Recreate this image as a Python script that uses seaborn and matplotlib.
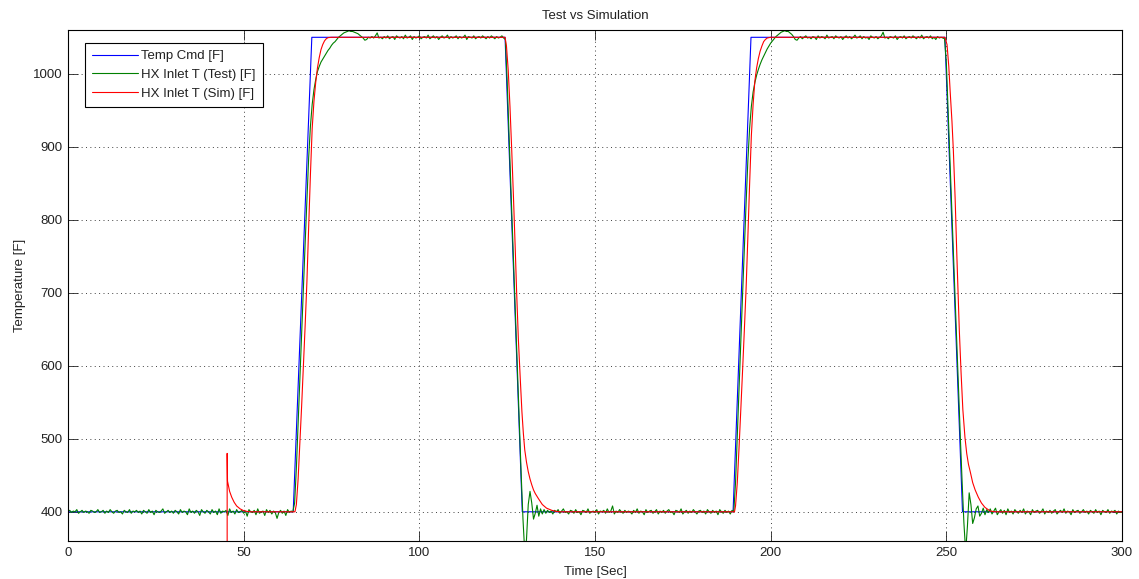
import numpy as np
import matplotlib
matplotlib.use("Agg")
import matplotlib.pyplot as plt
import seaborn as sns

# ---------------- data ----------------
chart_title = "Test vs Simulation"
x_label = "Time [Sec]"
y_label = "Temperature [F]"
series_names = ["Temp Cmd [F]", "HX Inlet T (Test) [F]", "HX Inlet T (Sim) [F]"]

x_ticks = [0, 50, 100, 150, 200, 250, 300]
y_ticks = [400, 500, 600, 700, 800, 900, 1000]
x_limits = [0, 300]
y_limits = [360, 1060]

# Temperature command (piecewise ramps)
cmd_time = [0, 64.1, 69.4, 124.4, 129.3, 189.3, 194.4, 249.6, 254.6, 300]
cmd_temp = [400, 400, 1050, 1050, 400, 400, 1050, 1050, 400, 400]

# Test measurement, sampled every 0.5 s from 0 to 300 s
test_temp = [
    401, 402, 399, 401, 400, 403, 398, 400, 402, 399, 401, 400, 398, 402, 401, 399, 400, 403, 399, 400,
    402, 398, 401, 399, 403, 400, 398, 401, 402, 399, 400, 397, 402, 400, 399, 403, 398, 401, 400, 402,
    399, 401, 397, 402, 400, 398, 403, 399, 401, 396, 402, 400, 399, 401, 404, 398, 400, 402, 399, 401,
    398, 402, 400, 397, 403, 399, 401, 400, 396, 404, 399, 401, 398, 402, 400, 395, 403, 400, 398, 402,
    400, 397, 403, 399, 401, 396, 404, 398, 401, 400, 402, 395, 404, 399, 401, 397, 403, 399, 400, 402,
    398, 401, 394, 403, 400, 399, 402, 396, 404, 398, 400, 401, 395, 403, 399, 402, 397, 401, 399, 391,
    399, 402, 398, 401, 395, 403, 399, 401, 400, 412, 460, 520, 582, 645, 706, 768, 828, 885, 928, 958,
    978, 992, 1003, 1010, 1016, 1020, 1024, 1028, 1032, 1035, 1039, 1042, 1044, 1047, 1050, 1052, 1054, 1056, 1057, 1058,
    1059, 1058, 1058, 1057, 1056, 1055, 1053, 1051, 1049, 1046, 1047, 1050, 1049, 1051, 1049, 1052, 1056, 1049, 1050, 1048,
    1051, 1049, 1052, 1048, 1050, 1051, 1047, 1052, 1050, 1049, 1051, 1048, 1053, 1049, 1050, 1052, 1047, 1051, 1049, 1050,
    1052, 1048, 1050, 1051, 1049, 1053, 1048, 1050, 1052, 1049, 1051, 1047, 1050, 1052, 1049, 1050, 1053, 1048, 1051, 1049,
    1050, 1052, 1048, 1051, 1049, 1050, 1053, 1047, 1051, 1050, 1049, 1052, 1048, 1050, 1051, 1049, 1052, 1050, 1048, 1051,
    1049, 1052, 1050, 1048, 1051, 1049, 1050, 1052, 1049, 1047, 990, 920, 852, 785, 716, 650, 582, 515, 450, 390,
    345, 362, 410, 428, 412, 390, 398, 409, 394, 404, 397, 403, 398, 402, 399, 401, 397, 402, 400, 403,
    398, 401, 404, 399, 400, 397, 402, 401, 398, 403, 399, 400, 396, 402, 401, 399, 404, 398, 400, 401,
    399, 403, 397, 401, 400, 402, 398, 404, 399, 401, 408, 397, 401, 399, 403, 400, 398, 402, 399, 401,
    400, 397, 402, 399, 404, 398, 401, 400, 396, 403, 399, 401, 402, 398, 400, 403, 397, 401, 399, 402,
    398, 401, 403, 399, 400, 396, 402, 401, 399, 404, 397, 400, 402, 398, 401, 399, 403, 400, 397, 401,
    402, 399, 401, 397, 403, 400, 398, 402, 399, 401, 396, 403, 400, 398, 402, 399, 401, 397, 402, 400,
    440, 505, 570, 633, 697, 760, 822, 880, 925, 955, 975, 988, 998, 1006, 1013, 1019, 1024, 1029, 1034, 1038,
    1042, 1045, 1048, 1051, 1053, 1055, 1057, 1058, 1059, 1058, 1058, 1056, 1054, 1051, 1047, 1046, 1049, 1051, 1048, 1050,
    1052, 1049, 1050, 1048, 1051, 1050, 1047, 1052, 1049, 1051, 1050, 1048, 1053, 1049, 1050, 1051, 1048, 1052, 1050, 1049,
    1051, 1047, 1050, 1052, 1049, 1051, 1048, 1050, 1053, 1049, 1050, 1052, 1048, 1051, 1049, 1050, 1047, 1052, 1050, 1049,
    1051, 1048, 1050, 1052, 1057, 1049, 1050, 1048, 1051, 1050, 1049, 1052, 1047, 1050, 1051, 1049, 1052, 1048, 1050, 1051,
    1049, 1052, 1050, 1048, 1051, 1049, 1053, 1048, 1050, 1051, 1049, 1052, 1048, 1050, 1047, 1051, 1049, 1050, 1049, 1048,
    1015, 950, 888, 822, 758, 692, 630, 565, 500, 440, 385, 345, 380, 426, 410, 384, 392, 404, 408, 394,
    398, 405, 396, 403, 399, 404, 397, 401, 405, 396, 400, 403, 398, 402, 396, 404, 399, 401, 397, 403,
    400, 398, 402, 399, 404, 397, 401, 400, 396, 403, 399, 401, 402, 398, 400, 404, 397, 401, 399, 402,
    398, 401, 403, 397, 400, 402, 399, 404, 398, 401, 400, 396, 403, 399, 401, 402, 398, 400, 403, 399,
    401, 397, 402, 400, 398, 403, 399, 401, 396, 402, 400, 399, 403, 398, 401, 400, 402, 397, 401, 399,
    400,
]
test_time = np.linspace(x_limits[0], x_limits[1], len(test_temp))

# Simulation (starts at ~45 s with an initial transient)
sim_time = [
    45.3, 45.3, 45.4, 46.0, 46.6, 47.3, 48.0, 49.0, 50.0, 51.0, 52.0,
    64.6, 65.0, 65.5, 66.0, 66.5, 67.0, 67.5, 68.0, 68.5, 69.0, 69.5, 70.0, 70.5, 71.0, 71.5,
    72.0, 72.5, 73.0, 73.5, 74.0, 75.0,
    124.4, 124.8, 125.3, 125.8, 126.3, 126.8, 127.3, 127.7, 128.2, 128.7, 129.2, 129.6, 130.0,
    130.5, 131.0, 131.5, 132.0, 132.5, 133.0, 133.9, 135.0, 136.2, 137.7, 139.0, 140.0,
    189.7, 190.0, 190.5, 191.0, 191.5, 192.0, 192.5, 193.0, 193.5, 194.0, 194.5, 195.0, 195.5,
    196.0, 196.5, 197.0, 197.5, 198.0, 198.5, 199.0, 200.0,
    249.6, 250.2, 250.7, 251.1, 251.6, 252.0, 252.5, 253.0, 253.7, 254.2, 254.7, 255.3, 255.8,
    256.3, 256.8, 257.5, 258.2, 259.1, 260.0, 261.0, 262.5, 264.0, 300.0,
]
sim_temp = [
    340, 480, 442, 428, 420, 413, 408, 404, 401.5, 400.5, 400,
    400, 410, 445, 495, 545, 600, 655, 715, 790, 862, 925, 962, 988, 1008, 1022,
    1033, 1040, 1045, 1048, 1049.5, 1050,
    1050, 1038, 1005, 955, 895, 830, 760, 700, 635, 585, 537, 508, 485,
    468, 455, 445, 437, 430, 425, 418, 410, 405, 402, 400.5, 400,
    400, 408, 440, 488, 540, 593, 648, 705, 775, 848, 915, 958, 990,
    1008, 1021, 1031, 1038, 1044, 1047, 1049, 1050,
    1050, 1040, 1010, 975, 935, 895, 830, 750, 648, 590, 540, 502, 480,
    465, 455, 440, 430, 420, 412, 406, 401, 400, 400,
]

# ---------------- figure ----------------
sns.set_theme(style="ticks")
plt.rcParams['font.family'] = ['Liberation Sans', 'DejaVu Sans']
plt.rcParams['axes.facecolor'] = 'white'
plt.rcParams['figure.facecolor'] = 'white'

W, H = 1139, 579
fig = plt.figure(figsize=(W / 100, H / 100), dpi=100)
ax = fig.add_axes([68 / W, 1 - 541 / H, (1122 - 68) / W, (541 - 30) / H])

fs = 9.5
sns.lineplot(x=cmd_time, y=cmd_temp, ax=ax, color='#0000ff', lw=0.8,
             label=series_names[0], estimator=None, sort=False)
sns.lineplot(x=test_time, y=test_temp, ax=ax, color='#008000', lw=0.8,
             label=series_names[1], estimator=None, sort=False)
sns.lineplot(x=sim_time, y=sim_temp, ax=ax, color='#ff0000', lw=0.8,
             label=series_names[2], estimator=None, sort=False)

ax.set_xlim(*x_limits)
ax.set_ylim(*y_limits)
ax.set_xticks(x_ticks)
ax.set_yticks(y_ticks)
ax.set_xticklabels([str(v) for v in x_ticks])
ax.set_yticklabels([str(v) for v in y_ticks])

ax.grid(True, color='#404040', linestyle=(0, (1, 3.5)), linewidth=0.7)
ax.set_axisbelow(True)

for s in ax.spines.values():
    s.set_visible(True)
    s.set_color('black')
    s.set_linewidth(0.8)

ax.tick_params(direction='in', length=7, width=0.6, top=True, right=True,
               labelsize=fs, colors='#222222', pad=4)

ax.set_title(chart_title, fontsize=fs, color='#222222', pad=8)
ax.set_xlabel(x_label, fontsize=fs, color='#222222', labelpad=5)
ax.set_ylabel(y_label, fontsize=fs, color='#222222', labelpad=5)

leg = ax.legend(loc='upper left', bbox_to_anchor=(0.016, 0.975), borderaxespad=0,
                frameon=True, fancybox=False, edgecolor='black', framealpha=1,
                handlelength=3.5, handletextpad=0.2, labelspacing=0.5,
                borderpad=0.55, fontsize=fs)
leg.get_frame().set_linewidth(0.8)
for t in leg.get_texts():
    t.set_color('#222222')

fig.savefig("out.png", dpi=100)
